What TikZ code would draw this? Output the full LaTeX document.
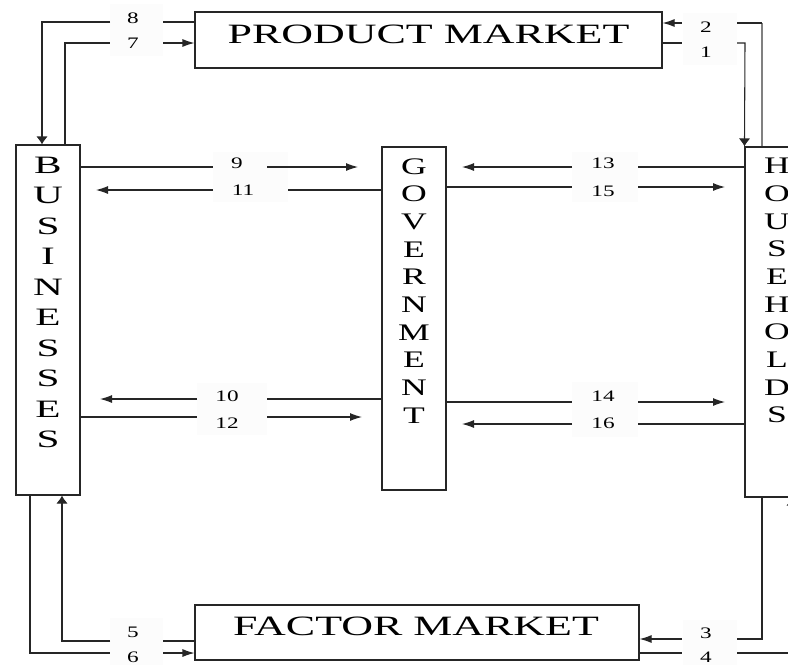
\documentclass[tikz,border=0pt]{standalone}
\usepackage{fontspec}
\setmainfont{Liberation Serif}
\usetikzlibrary{arrows.meta,fit}
\newcommand\nm[1]{\scalebox{1.45}[1]{#1}}
\begin{document}
\begin{tikzpicture}[x=0.75pt,y=-0.75pt,
  box/.style={draw=black!85, line width=0.8pt, inner sep=0pt},
  conn/.style={draw=black!85, line width=0.8pt},
  hto/.style={conn, -{Latex[length=9pt,width=6pt]}},
  vto/.style={conn, -{Latex[length=6pt,width=8.5pt]}},
  num/.style={inner sep=0pt, font=\fontsize{12}{14}\selectfont},
  title/.style={inner sep=0pt, anchor=base, font=\fontsize{21}{25}\selectfont},
  lblbg/.style={fill=black!1, draw=none}]
\useasboundingbox (0,0) rectangle (788,665);
\clip (0,0) rectangle (788,665);
% faint label backgrounds
\fill[lblbg] (110,4) rectangle (163,56);
\fill[lblbg] (683,13) rectangle (737,65);
\fill[lblbg] (110,618) rectangle (163,665);
\fill[lblbg] (683,620) rectangle (737,665);
\fill[lblbg] (213,152) rectangle (288,202);
\fill[lblbg] (197,383) rectangle (267,435);
\fill[lblbg] (572,152) rectangle (638,202);
\fill[lblbg] (572,382) rectangle (638,437);
% boxes
\node[box, fit={(195,12) (662,68)}] (pm) {};
\node[box, fit={(195,605) (639,660)}] (fm) {};
\node[box, fit={(16,145) (80,495)}] (bus) {};
\node[box, fit={(382,147) (446,490)}] (gov) {};
\node[box, fit={(745,147) (809,497)}] (hh) {};
% box texts
\node[title] (pmT) at (428.5,43) {\scalebox{1.57}[1]{PRODUCT MARKET}};
\node[title] (fmT) at (416,635) {\scalebox{1.57}[1]{FACTOR MARKET}};
\node[inner sep=0pt, font=\fontsize{18.75}{22.875}\selectfont] (busT) at (48,304.2)
  {\scalebox{1.65}[1]{\begin{tabular}{@{}c@{}}B\\U\\S\\I\\N\\E\\S\\S\\E\\S\end{tabular}}};
\node[inner sep=0pt, font=\fontsize{17.8}{20.75}\selectfont] (govT) at (414,293)
  {\scalebox{1.5}[1]{\begin{tabular}{@{}c@{}}G\\O\\V\\E\\R\\N\\M\\E\\N\\T\end{tabular}}};
\node[inner sep=0pt, font=\fontsize{17.8}{20.75}\selectfont] (hhT) at (777,292.7)
  {\scalebox{1.5}[1]{\begin{tabular}{@{}c@{}}H\\O\\U\\S\\E\\H\\O\\L\\D\\S\end{tabular}}};
% labels
\node[num] (l8) at (133,18) {\nm{8}};
\node[num] (l7) at (133,43) {\nm{7}};
\node[num] (l2) at (706,27) {\nm{2}};
\node[num] (l1) at (706,52) {\nm{1}};
\node[num] (l3) at (706,633) {\nm{3}};
\node[num] (l4) at (706,657.5) {\nm{4}};
\node[num] (l5) at (133,632) {\nm{5}};
\node[num] (l6) at (133,657.5) {\nm{6}};
\node[num] (l9) at (237,163) {\nm{9}};
\node[num] (l11) at (243,190) {\nm{11}};
\node[num] (l10) at (227,396) {\nm{10}};
\node[num] (l12) at (227,423) {\nm{12}};
\node[num] (l13) at (603,163) {\nm{13}};
\node[num] (l15) at (603,191) {\nm{15}};
\node[num] (l14) at (603,396) {\nm{14}};
\node[num] (l16) at (603,423) {\nm{16}};
% outer flows
\draw[conn] (pm.west |- 0,22) -- (163,22);
\draw[vto] (110,22) -- (42,22) -- (bus.north -| 42,0);
\draw[conn] (bus.north -| 65,0) -- (65,43) -- (110,43);
\draw[hto] (163,43) -- (pm.west |- 0,43);
\draw[conn] (pm.east |- 0,43) -- (682,43);
\draw[vto] (737,43) -- (745,43) -- (hh.north west);
\draw[conn, draw=black!50] (hh.north -| 762,0) -- (762,23);
\draw[conn] (762,23) -- (737,23);
\draw[hto] (682,23) -- (pm.east |- 0,23);
\draw[conn] (hh.south -| 762,0) -- (762,639) -- (737,639);
\draw[hto] (682,639) -- (fm.east |- 0,639);
\draw[conn] (fm.east |- 0,653) -- (682,653);
\draw[vto] (737,653) -- (792,653) -- (hh.south -| 792,0);
\draw[conn] (fm.west |- 0,641) -- (163,641);
\draw[vto] (110,641) -- (62,641) -- (bus.south -| 62,0);
\draw[conn] (bus.south -| 30,0) -- (30,653) -- (110,653);
\draw[hto] (163,653) -- (fm.west |- 0,653);
% government flows
\draw[conn] (bus.east |- 0,167) -- (213,167);
\draw[hto] (267,167) -- (358,167);
\draw[conn] (gov.west |- 0,190) -- (288,190);
\draw[hto] (213,190) -- (96,190);
\draw[conn] (gov.west |- 0,399) -- (267,399);
\draw[hto] (197,399) -- (100,399);
\draw[conn] (bus.east |- 0,417) -- (197,417);
\draw[hto] (267,417) -- (362,417);
\draw[conn] (hh.west |- 0,167) -- (638,167);
\draw[hto] (572,167) -- (462,167);
\draw[conn] (gov.east |- 0,187) -- (572,187);
\draw[hto] (638,187) -- (725,187);
\draw[conn] (gov.east |- 0,402) -- (572,402);
\draw[hto] (638,402) -- (725,402);
\draw[conn] (hh.west |- 0,424) -- (638,424);
\draw[hto] (572,424) -- (462,424);
\end{tikzpicture}
\end{document}
